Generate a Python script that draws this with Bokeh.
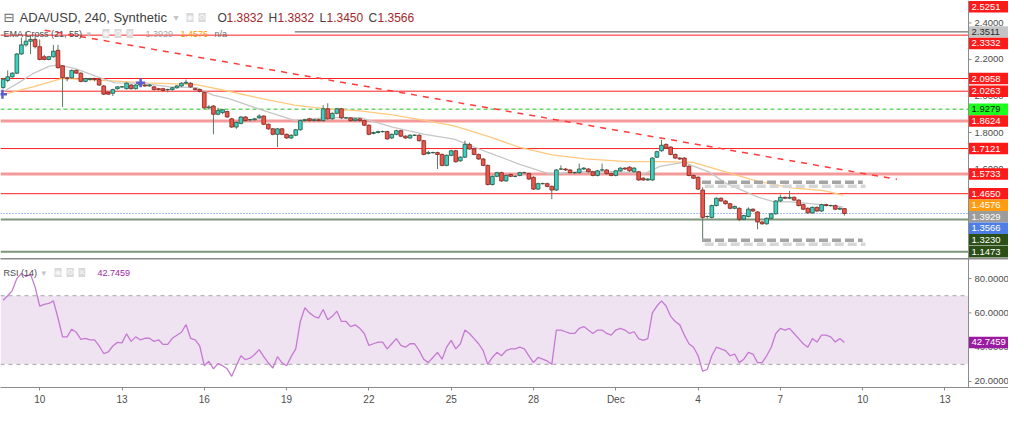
from bokeh.plotting import figure
from bokeh.layouts import column
from bokeh.models import (ColumnDataSource, Span, Label, FixedTicker, LinearAxis,
                          BoxAnnotation, Range1d)
from bokeh.core.properties import value
from bokeh.embed import file_html
from bokeh.resources import INLINE

FONT = "Liberation Sans"
SYM = "DejaVu Sans"

# ------------------------------------------------------------------ data
first_candle_day = 8 + 16 / 24      # Nov 8, 16:00 ; 4h candles
candle_step = 1 / 6

opens = [
    2.046, 2.085, 2.105, 2.125, 2.23, 2.28, 2.30, 2.31, 2.27, 2.215,
    2.20, 2.215, 2.25, 2.165, 2.10, 2.10, 2.14, 2.125, 2.08, 2.09,
    2.095, 2.09, 2.055, 2.02, 2.015, 2.04, 2.05, 2.04, 2.06, 2.04,
    2.06, 2.06, 2.055, 2.05, 2.04, 2.04, 2.035, 2.035, 2.045, 2.055,
    2.07, 2.07, 2.04,
    2.035, 2.02, 1.935, 1.945, 1.90, 1.91, 1.915,
    1.875, 1.83, 1.85, 1.885, 1.87, 1.87, 1.88, 1.89, 1.845, 1.82,
    1.79, 1.82, 1.79, 1.77, 1.785, 1.815, 1.865, 1.875, 1.865, 1.87,
    1.865, 1.93, 1.875, 1.905, 1.93, 1.88, 1.88, 1.865, 1.875, 1.865,
    1.84, 1.795, 1.80, 1.805, 1.805, 1.77, 1.79, 1.81, 1.78, 1.77,
    1.785, 1.785,
    1.755, 1.685, 1.69, 1.69, 1.68, 1.62, 1.675, 1.70,
    1.645, 1.665, 1.735, 1.71, 1.68, 1.655, 1.62, 1.515, 1.56, 1.58,
    1.535, 1.57, 1.56, 1.565, 1.58, 1.575, 1.555, 1.49, 1.52, 1.52,
    1.505, 1.485, 1.60, 1.60, 1.595, 1.58, 1.58, 1.60, 1.60, 1.585,
    1.565, 1.595, 1.595, 1.575, 1.565, 1.59, 1.605,
    1.61, 1.585, 1.585,
    1.55, 1.54, 1.54, 1.665, 1.70, 1.735, 1.72, 1.68, 1.66, 1.66,
    1.615, 1.565, 1.555, 1.485, 1.34, 1.335, 1.40, 1.44, 1.425, 1.41,
    1.385, 1.385, 1.325, 1.34, 1.38, 1.365, 1.31, 1.30, 1.33, 1.355,
    1.425, 1.445, 1.44, 1.445, 1.43, 1.405, 1.385, 1.36, 1.39, 1.37,
    1.405, 1.40, 1.40, 1.38, 1.3832,
]
closes = [
    2.092, 2.105, 2.125, 2.23, 2.28, 2.30, 2.31, 2.27, 2.20, 2.20,
    2.215, 2.245, 2.155, 2.10, 2.095, 2.14, 2.125, 2.08, 2.095, 2.095,
    2.09, 2.06, 2.01, 2.01, 2.035, 2.05, 2.05, 2.07, 2.04, 2.06,
    2.065, 2.055, 2.06, 2.035, 2.035, 2.03, 2.035, 2.045, 2.055, 2.07,
    2.075, 2.05, 2.035,
    2.025, 1.935, 1.94, 1.90, 1.92, 1.925, 1.885,
    1.83, 1.855, 1.885, 1.865, 1.87, 1.875, 1.89, 1.845, 1.82, 1.79,
    1.82, 1.79, 1.77, 1.785, 1.815, 1.865, 1.87, 1.865, 1.87, 1.865,
    1.93, 1.875, 1.905, 1.93, 1.88, 1.88, 1.865, 1.875, 1.865, 1.84,
    1.79, 1.80, 1.805, 1.805, 1.765, 1.79, 1.81, 1.78, 1.77, 1.785,
    1.785, 1.755,
    1.68, 1.69, 1.69, 1.68, 1.62, 1.675, 1.70, 1.64,
    1.665, 1.735, 1.71, 1.68, 1.655, 1.62, 1.515, 1.56, 1.58, 1.535,
    1.565, 1.56, 1.56, 1.58, 1.58, 1.545, 1.49, 1.52, 1.52, 1.505,
    1.485, 1.595, 1.60, 1.595, 1.58, 1.58, 1.60, 1.605, 1.585, 1.565,
    1.59, 1.595, 1.575, 1.565, 1.59, 1.605, 1.60,
    1.59, 1.605, 1.54,
    1.54, 1.545, 1.66, 1.695, 1.73, 1.715, 1.68, 1.66, 1.655, 1.615,
    1.565, 1.55, 1.49, 1.335, 1.34, 1.40, 1.44, 1.425, 1.41, 1.385,
    1.395, 1.325, 1.345, 1.38, 1.37, 1.31, 1.30, 1.33, 1.355, 1.425,
    1.445, 1.44, 1.445, 1.43, 1.40, 1.38, 1.36, 1.39, 1.37, 1.405,
    1.40, 1.40, 1.38, 1.385, 1.3566,
]
highs = [
    2.10, 2.14, 2.13, 2.235, 2.32, 2.351, 2.33, 2.33, 2.31, 2.225,
    2.22, 2.28, 2.28, 2.17, 2.105, 2.145, 2.145, 2.13, 2.10, 2.10,
    2.10, 2.095, 2.06, 2.025, 2.04, 2.055, 2.055, 2.075, 2.065, 2.065,
    2.075, 2.065, 2.065, 2.055, 2.045, 2.045, 2.04, 2.05, 2.06, 2.075,
    2.09, 2.075, 2.045,
    2.04, 2.025, 1.95, 1.95, 1.935, 1.93, 1.92,
    1.88, 1.86, 1.89, 1.89, 1.875, 1.88, 1.90, 1.895, 1.85, 1.825,
    1.825, 1.825, 1.795, 1.79, 1.82, 1.87, 1.875, 1.88, 1.875, 1.875,
    1.95, 1.96, 1.91, 1.935, 1.935, 1.885, 1.885, 1.88, 1.88, 1.87,
    1.845, 1.805, 1.81, 1.81, 1.81, 1.795, 1.815, 1.815, 1.785, 1.79,
    1.79, 1.79,
    1.76, 1.70, 1.695, 1.695, 1.685, 1.68, 1.705, 1.705,
    1.67, 1.755, 1.745, 1.715, 1.685, 1.66, 1.625, 1.565, 1.585, 1.585,
    1.57, 1.575, 1.565, 1.585, 1.585, 1.58, 1.56, 1.525, 1.525, 1.525,
    1.51, 1.60, 1.62, 1.605, 1.60, 1.585, 1.63, 1.61, 1.605, 1.59,
    1.595, 1.63, 1.60, 1.58, 1.595, 1.61, 1.61,
    1.615, 1.61, 1.59,
    1.555, 1.55, 1.665, 1.70, 1.76, 1.74, 1.725, 1.685, 1.665, 1.665,
    1.62, 1.57, 1.56, 1.50, 1.345, 1.405, 1.445, 1.445, 1.43, 1.415,
    1.40, 1.39, 1.35, 1.39, 1.385, 1.37, 1.315, 1.335, 1.36, 1.43,
    1.46, 1.45, 1.48, 1.45, 1.435, 1.41, 1.39, 1.395, 1.395, 1.41,
    1.41, 1.405, 1.405, 1.39, 1.3832,
]
lows = [
    2.04, 2.075, 2.10, 2.12, 2.225, 2.27, 2.23, 2.26, 2.195, 2.195,
    2.195, 2.21, 2.15, 1.94, 2.08, 2.095, 2.12, 2.075, 2.075, 2.085,
    2.08, 2.055, 2.005, 2.005, 2.00, 2.035, 2.045, 2.035, 2.035, 2.035,
    2.05, 2.05, 2.05, 2.03, 2.03, 2.025, 2.02, 2.03, 2.04, 2.05,
    2.065, 2.045, 2.03,
    2.02, 1.93, 1.925, 1.79, 1.895, 1.90, 1.88,
    1.825, 1.82, 1.845, 1.86, 1.86, 1.865, 1.875, 1.84, 1.815, 1.785,
    1.72, 1.785, 1.765, 1.765, 1.78, 1.81, 1.86, 1.86, 1.86, 1.86,
    1.86, 1.87, 1.87, 1.90, 1.875, 1.875, 1.86, 1.86, 1.86, 1.835,
    1.785, 1.79, 1.795, 1.80, 1.76, 1.765, 1.785, 1.775, 1.765, 1.765,
    1.78, 1.75,
    1.675, 1.68, 1.685, 1.60, 1.615, 1.615, 1.67, 1.635,
    1.64, 1.66, 1.705, 1.675, 1.65, 1.615, 1.51, 1.51, 1.555, 1.53,
    1.53, 1.555, 1.555, 1.56, 1.575, 1.54, 1.485, 1.485, 1.515, 1.50,
    1.435, 1.48, 1.595, 1.59, 1.575, 1.575, 1.575, 1.595, 1.58, 1.56,
    1.56, 1.59, 1.57, 1.56, 1.56, 1.585, 1.595,
    1.585, 1.58, 1.535,
    1.535, 1.535, 1.535, 1.66, 1.695, 1.71, 1.675, 1.655, 1.65, 1.61,
    1.56, 1.545, 1.485, 1.21, 1.33, 1.33, 1.395, 1.42, 1.405, 1.38,
    1.38, 1.315, 1.32, 1.335, 1.365, 1.27, 1.295, 1.295, 1.325, 1.35,
    1.42, 1.435, 1.435, 1.425, 1.395, 1.375, 1.355, 1.355, 1.365, 1.365,
    1.395, 1.395, 1.375, 1.375, 1.345,
]
rsi = [
    67.4, 70, 73, 80, 83, 81.2, 82.5, 75, 64, 65,
    65.5, 67, 57, 46, 46, 50.5, 48.7, 44.5, 45.2, 44.3,
    44.3, 40.7, 36.3, 37.2, 40.7, 42.8, 42.5, 47.8, 43.4, 46,
    44.3, 45.2, 45.2, 43.4, 44.3, 41.6, 41.6, 45.2, 47, 48.7,
    53.2, 45.2, 44.3, 40.7, 29.2, 31.8, 27.4, 30.4, 29.2, 27.4,
    23, 29.2, 35, 32.7, 33.6, 35.7, 38.6, 34.5, 30.9, 27.9,
    34.5, 30.9, 29.2, 34.5, 39, 55, 63, 60, 58, 57,
    62, 56, 58, 61, 55, 55, 52, 53, 51, 48,
    41, 42, 43, 43, 39, 42, 45, 41, 40, 42,
    42, 38, 33, 31, 34, 37, 33, 40, 44, 39,
    42, 50, 48, 45, 42, 38, 30, 34, 37, 35,
    38, 39, 39, 40, 39, 35, 31, 34, 33, 32,
    30, 50, 50, 49, 48, 48, 51, 52, 50, 48,
    50, 50, 48, 47, 50, 51, 50, 48, 49, 45,
    44, 45, 60, 64, 67, 64, 58, 55, 53, 47,
    42, 40, 35, 26, 27, 35, 40, 39, 38, 35,
    36, 31, 33, 37, 36, 31, 31, 35, 40, 48,
    51, 50, 51, 48, 45, 42, 40, 45, 43, 47,
    47, 46, 43, 45, 42.7459,
]

# EMA Cross (21, 55) read at sample times (day of month; December continues as 31, 32, ...)
ema21_day = [8.571, 9.286, 9.75, 10.357, 10.714, 11.321, 12.143, 12.75, 13.679, 14.75,
             15.714, 16.321, 16.893, 18.107, 19.286, 20.464, 21.679, 22.857, 24.036, 25.107,
             26.321, 27.5, 28.571, 29.893, 31.071, 32.036, 32.607, 33.464, 34.393, 35.0,
             36.179, 36.786, 37.393, 38.107, 39.286]
ema21_val = [2.015, 2.077, 2.123, 2.164, 2.17, 2.149, 2.103, 2.072, 2.07, 2.05,
             2.046, 2.005, 1.985, 1.923, 1.867, 1.882, 1.882, 1.83, 1.79, 1.764,
             1.692, 1.626, 1.574, 1.585, 1.585, 1.574, 1.615, 1.636, 1.585, 1.523,
             1.446, 1.42, 1.42, 1.41, 1.3929]
ema55_day = [8.571, 9.75, 10.821, 12.143, 13.929, 15.714, 16.893, 18.107, 19.286, 20.464,
             21.679, 22.857, 24.036, 25.107, 26.321, 27.5, 28.679, 29.893, 31.429, 32.607,
             33.821, 35.0, 36.179, 37.393, 38.571, 39.286]
ema55_val = [2.005, 2.05, 2.097, 2.087, 2.072, 2.062, 2.026, 1.985, 1.95, 1.93,
             1.918, 1.897, 1.867, 1.836, 1.78, 1.718, 1.677, 1.656, 1.641, 1.641,
             1.636, 1.585, 1.533, 1.497, 1.482, 1.4576]
cross_day = [8.643, 13.679]
cross_price = [2.01, 2.072]

# drawn levels
level_high = 2.3511
level_high_from = 19.3
level_red = [2.3332, 2.0958, 2.0263, 1.7121, 1.4650]
level_zone = [1.8624, 1.5733]
level_green_dash = [1.9279]
level_support = [1.3230, 1.1473]
last_price = 1.3566
ema21_last, ema55_last = 1.3929, 1.4576
offscreen_red = 2.5251

trend_day = [10.179, 41.25]
trend_price = [2.36, 1.5436]
range_day = [34.143, 40.0]
range_top, range_bottom = 1.528, 1.210

price_ticks = [1.6, 1.8, 2.0, 2.2, 2.4]
rsi_ticks = [20, 40, 60, 80]
rsi_band = (30, 70)
day_ticks = [10, 13, 16, 19, 22, 25, 28, 31, 34, 37, 40, 43]
day_tick_text = {31: "Dec", 34: "4", 37: "7", 40: "10", 43: "13"}

header_ohlc = [("O", 1.3832), ("H", 1.3832), ("L", 1.3450), ("C", 1.3566)]

# ------------------------------------------------------------------ layout
W = 1008
AXIS_PX = 968                       # pixel position of the price scale line
H1, H2 = 258, 149
X0, X1 = 8.571, 43.857              # X1 sits on the price scale line
ppd = AXIS_PX / (X1 - X0)           # pixels per day
dpp = 1 / ppd
XF = X0 + W / ppd
P_LO, P_HI = 1.11, 2.523
R_LO, R_HI = 16.5, 91.7

UP_FILL, UP_LINE = "#3ccfc4", "#24563c"
DN_FILL, DN_LINE = "#e8564c", "#86221d"
WICK = "#5e7763"
RED = "#ff1f1f"
AXIS_C = "#8c8c8c"
TXT = "#4d4d4d"

xr = Range1d(X0, XF)


def base_fig(height, yr, xloc):
    f = figure(width=W, height=height, x_range=xr, y_range=yr, output_backend="svg",
               toolbar_location=None, x_axis_location=xloc, y_axis_location=None,
               min_border_left=0, min_border_right=0, min_border_top=0, min_border_bottom=0,
               background_fill_color="white", border_fill_color="white")
    f.grid.visible = False
    f.outline_line_color = None
    return f


def hline(fig, v, color, width, dash="solid", start=X0):
    fig.segment(x0=[start], y0=[v], x1=[X1], y1=[v], line_color=color, line_width=width,
                line_dash=dash)


def price_scale(fig, ticks, tags, lo, hi, height, gap=11.5, box=11.5):
    k = height / (hi - lo)
    fig.add_layout(Span(location=X1, dimension="height", line_color=AXIS_C, line_width=1))
    fig.segment(x0=[X1] * len(ticks), y0=ticks, x1=[X1 + 3 * dpp] * len(ticks), y1=ticks,
                line_color=AXIS_C, line_width=1)
    fig.text(x=[X1 + 6 * dpp] * len(ticks), y=ticks, text=[f"{t:.4f}" for t in ticks],
             text_font=value(FONT), text_font_size=value("9.5px"), text_color=TXT,
             text_align="left", text_baseline="middle")
    prev = None
    ys, bgs, fgs, txt = [], [], [], []
    for price, bg, fg in sorted(tags, key=lambda t: -t[0]):
        nat = (hi - price) * k
        pos = max(nat, box / 2 + 0.5) if prev is None else max(nat, prev + gap)
        prev = pos
        ys.append(hi - pos / k)
        bgs.append(bg)
        fgs.append(fg)
        txt.append(f"{price:.4f}")
    s = ColumnDataSource(dict(y=ys, top=[y + box / 2 / k for y in ys],
                              bot=[y - box / 2 / k for y in ys], bg=bgs, fg=fgs, t=txt))
    fig.quad(left=X1 + 0.5 * dpp, right=XF, top="top", bottom="bot", source=s,
             fill_color="bg", line_color=None)
    fig.text(x=X1 + 3 * dpp, y="y", text="t", source=s, text_color="fg",
             text_font=value(FONT), text_font_size=value("9.5px"),
             text_align="left", text_baseline="middle")


p1 = base_fig(H1, Range1d(P_LO, P_HI), None)

n = min(len(opens), len(closes), len(highs), len(lows))
days = [first_candle_day + i * candle_step for i in range(n)]
is_up = [closes[i] >= opens[i] for i in range(n)]
src = ColumnDataSource(dict(
    x=days, h=highs[:n], l=lows[:n],
    top=[max(opens[i], closes[i]) for i in range(n)],
    bot=[min(opens[i], closes[i]) for i in range(n)],
    fill=[UP_FILL if u else DN_FILL for u in is_up],
    edge=[UP_LINE if u else DN_LINE for u in is_up],
))

# horizontal levels
hline(p1, level_high, "#505050", 1, start=level_high_from)
for v in level_red:
    hline(p1, v, RED, 1)
for v in level_zone:
    hline(p1, v, "#f59a9a", 3)
for v in level_green_dash:
    hline(p1, v, "#1fc21f", 1, "4 3")
for v in level_support:
    hline(p1, v, "#7d967a", 2)
hline(p1, last_price, "#4f7fe6", 1, "1 2")

# EMA lines
p1.line(ema55_day, ema55_val, line_color="#ffc97e", line_width=1.3)
p1.line(ema21_day, ema21_val, line_color="#c6c6c6", line_width=1.3)

# candles
p1.segment(x0="x", y0="h", x1="x", y1="l", source=src, line_color=WICK, line_width=1)
p1.vbar(x="x", width=0.135, top="top", bottom="bot", source=src,
        fill_color="fill", line_color="edge", line_width=0.8)

# ema cross markers
p1.scatter(cross_day, cross_price, marker="cross", size=9, line_color="#5a5fcf", line_width=2.5)

# trend line
p1.line(trend_day, trend_price, line_color="#ff3b3b", line_width=1.5, line_dash="6 6")

# consolidation range (gray dashed with soft shadow)
k1 = H1 / (P_HI - P_LO)
for lvl in (range_top, range_bottom):
    p1.line([d + 0.1 for d in range_day], [lvl - 4 / k1] * 2, line_color="#d6d6d6",
            line_width=3.5, line_dash="9 4")
    p1.line(range_day, [lvl] * 2, line_color="#a4a4a4", line_width=3.5, line_dash="9 4")

tags = [
    (offscreen_red, "#ff1a1a", "#ffffff"),
    (level_high, "#c4c4c4", "#2a2a2a"),
    (2.3332, "#ff1a1a", "#ffffff"),
    (2.0958, "#ff1a1a", "#ffffff"),
    (2.0263, "#ff1a1a", "#ffffff"),
    (1.9279, "#1cff1c", "#1a1a1a"),
    (1.8624, "#ff1a1a", "#ffffff"),
    (1.7121, "#ff1a1a", "#ffffff"),
    (1.5733, "#ff1a1a", "#ffffff"),
    (1.4650, "#ff1a1a", "#ffffff"),
    (ema55_last, "#ff9c12", "#ffffff"),
    (ema21_last, "#9c9c9c", "#ffffff"),
    (last_price, "#4f7fe6", "#ffffff"),
    (1.3230, "#2b4f17", "#ffffff"),
    (1.1473, "#2b4f17", "#ffffff"),
]
price_scale(p1, price_ticks, tags, P_LO, P_HI, H1)


def hl(fig, yref, px, py, text, color, size, font=FONT, bg=None):
    lab = Label(x=X0, y=yref, x_offset=px, y_offset=-py, text=text, text_color=color,
                text_font=font, text_font_size=f"{size}px", text_align="left",
                text_baseline="middle")
    if bg is not None:
        lab.background_fill_color = bg
        lab.background_fill_alpha = 1.0
    fig.add_layout(lab)


def icons(fig, yref, px, py, glyphs):
    for j, g in enumerate(glyphs):
        hl(fig, yref, px + 12 * j, py, g, "#f7f7f7", 8, SYM, "#d9d9d9")


# header line 1
hl(p1, P_HI, 3, 17, "⊟", "#6a6a6a", 13, SYM)
hl(p1, P_HI, 19, 17, "ADA/USD, 240, Synthetic", "#404040", 13)
hl(p1, P_HI, 173, 17, "▾", "#c4c4c4", 10, SYM)
icons(p1, P_HI, 186, 17, ["◉", "⚙"])
ohlc_x = [217, 268, 319, 368]
for (k, v), x in zip(header_ohlc, ohlc_x):
    hl(p1, P_HI, x, 17, k, "#404040", 12)
    hl(p1, P_HI, x + (7 if k == "L" else 9), 17, f"{v:.4f}", "#a3282a", 12)
# header line 2
hl(p1, P_HI, 3, 33, "EMA Cross (21, 55)", "#4a4a4a", 9)
hl(p1, P_HI, 86, 33, "▾", "#c4c4c4", 9, SYM)
icons(p1, P_HI, 102, 33, ["◉", "⚙", "✕"])
hl(p1, P_HI, 145, 33, f"{ema21_last:.4f}", "#a8a8a8", 9)
hl(p1, P_HI, 180, 33, f"{ema55_last:.4f}", "#ff9800", 9)
hl(p1, P_HI, 214, 33, "n/a", "#6e6e6e", 9)

# ------------------------------------------------------------------ RSI pane
p2 = base_fig(H2, Range1d(R_LO, R_HI), "below")
xa = p2.xaxis[0]
xa.ticker = FixedTicker(ticks=day_ticks)
xa.major_label_overrides = day_tick_text
xa.axis_line_color = AXIS_C
xa.major_tick_line_color = AXIS_C
xa.major_tick_out = 3
xa.major_tick_in = 0
xa.minor_tick_line_color = None
xa.major_label_standoff = 3
xa.major_label_text_font = FONT
xa.major_label_text_font_size = "10px"
xa.major_label_text_color = TXT

sep = LinearAxis(ticker=FixedTicker(ticks=[]), axis_line_color="#8a8a8a", axis_line_width=2,
                 major_tick_line_color=None, minor_tick_line_color=None,
                 major_tick_out=0, major_tick_in=0, major_label_standoff=0)
p2.add_layout(sep, "above")

p2.add_layout(BoxAnnotation(bottom=rsi_band[0], top=rsi_band[1], right=X1, fill_color="#efe3f2",
                            fill_alpha=1.0, line_color=None, level="underlay"))
for v in rsi_band:
    hline(p2, v, "#a3a3a3", 1, "4 4")
p2.line(days, rsi[:n], line_color="#c67ad2", line_width=1.3)

H2F = H2 - 20
price_scale(p2, rsi_ticks, [(rsi[n - 1], "#9a1aa2", "#ffffff")], R_LO, R_HI, H2F)

hl(p2, R_HI, 3, 14, "RSI (14)", "#4a4a4a", 9)
hl(p2, R_HI, 41, 14, "▾", "#c4c4c4", 9, SYM)
icons(p2, R_HI, 54, 14, ["◉", "⚙", "✕"])
hl(p2, R_HI, 97, 14, f"{rsi[n - 1]:.4f}", "#a11fa6", 9)

layout = column(p1, p2, spacing=0)
open("out.html", "w").write(file_html(layout, INLINE))
